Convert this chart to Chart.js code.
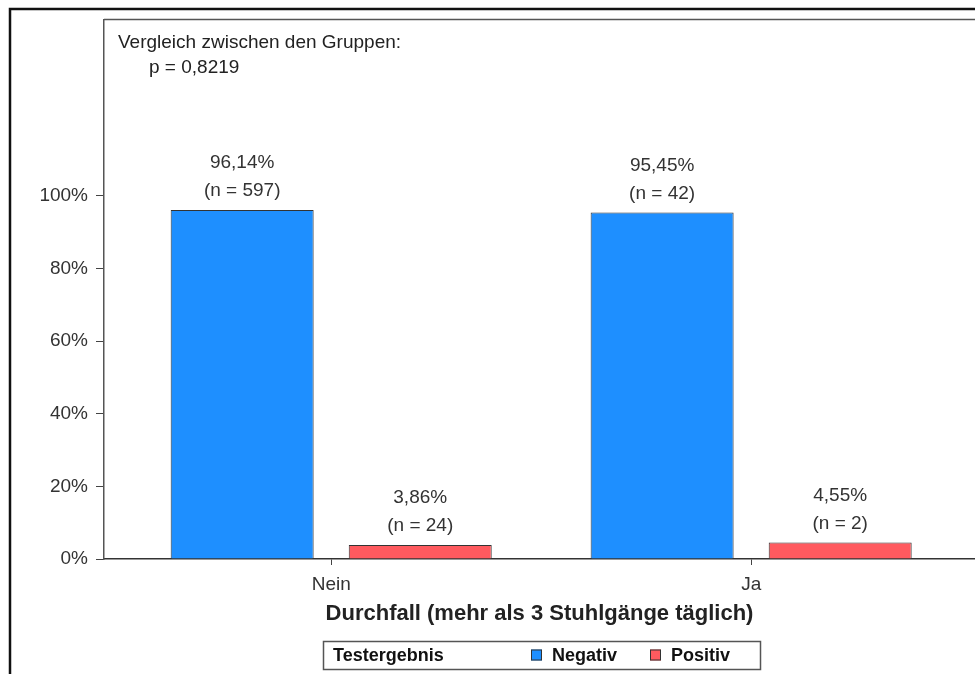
<!DOCTYPE html>
<html>
<head>
<meta charset="utf-8">
<script src="https://cdn.jsdelivr.net/npm/chart.js@4.4.1/dist/chart.umd.min.js"></script>
<style>
  html, body { margin: 0; padding: 0; background: #fff; overflow: hidden; }
  #wrap { width: 975px; height: 674px; position: relative; }
</style>
</head>
<body>
<div id="wrap"><canvas id="c" width="975" height="674"></canvas></div>
<script>
// ---- data ----
const categories = ['Nein', 'Ja'];
const seriesNames = ['Negativ', 'Positiv'];
const negativPct = [96.14, 95.45];
const positivPct = [3.86, 4.55];
const negativN = [597, 42];
const positivN = [24, 2];
const yTickValues = [0, 20, 40, 60, 80, 100];
const xAxisTitle = 'Durchfall (mehr als 3 Stuhlgänge täglich)';
const legendTitle = 'Testergebnis';
const noteLines = ['Vergleich zwischen den Gruppen:', 'p = 0,8219'];

const FONT = "'Liberation Sans', Arial, Helvetica, sans-serif";
const BLUE = '#1E8FFF';
const RED = '#FF5A5F';
const countsBySeries = [negativN, positivN];
const pctBySeries = [negativPct, positivPct];

function fmtPct(v) { return v.toFixed(2).replace('.', ',') + '%'; }

const decorPlugin = {
  id: 'decor',
  beforeDraw(chart) {
    const ctx = chart.ctx;
    const a = chart.chartArea;
    ctx.save();
    // outer frame
    ctx.strokeStyle = '#111';
    ctx.lineWidth = 2.5;
    ctx.strokeRect(10, 9, 1100, 1100);
    // plot frame top line
    ctx.strokeStyle = '#555';
    ctx.lineWidth = 1.5;
    ctx.beginPath();
    ctx.moveTo(a.left, a.top);
    ctx.lineTo(a.right + 5, a.top);
    ctx.stroke();
    ctx.restore();
  },
  afterDraw(chart) {
    const ctx = chart.ctx;
    const a = chart.chartArea;
    ctx.save();
    // note text
    ctx.fillStyle = '#222';
    ctx.font = '19px ' + FONT;
    ctx.textBaseline = 'middle';
    ctx.textAlign = 'left';
    ctx.fillText(noteLines[0], a.left + 14, 43);
    ctx.fillText(noteLines[1], a.left + 45, 68);

    // bar labels
    ctx.textAlign = 'center';
    ctx.font = '19px ' + FONT;
    ctx.fillStyle = '#333';
    chart.data.datasets.forEach((ds, di) => {
      const meta = chart.getDatasetMeta(di);
      meta.data.forEach((bar, i) => {
        const x = bar.x;
        const y = bar.y;
        ctx.fillText(fmtPct(pctBySeries[di][i]), x, y - 47);
        ctx.fillText('(n = ' + countsBySeries[di][i] + ')', x, y - 19);
      });
    });

    // legend box
    const lx = 323.5, ly = 641.5, lw = 437, lh = 28;
    ctx.strokeStyle = '#555';
    ctx.lineWidth = 1.5;
    ctx.strokeRect(lx, ly, lw, lh);
    ctx.textAlign = 'left';
    ctx.fillStyle = '#111';
    ctx.font = 'bold 18px ' + FONT;
    ctx.fillText(legendTitle, 333, ly + lh / 2 + 1);
    const items = [{ x: 531 }, { x: 650 }];
    chart.data.datasets.forEach((ds, di) => {
      const ix = items[di].x;
      ctx.fillStyle = ds.backgroundColor;
      ctx.fillRect(ix, ly + 8, 11, 11);
      ctx.strokeStyle = '#333';
      ctx.lineWidth = 1;
      ctx.strokeRect(ix + 0.5, ly + 8.5, 10, 10);
      ctx.fillStyle = '#111';
      ctx.fillText(ds.label, ix + 21, ly + lh / 2 + 1);
    });
    ctx.restore();
  }
};

const ctx = document.getElementById('c').getContext('2d');
new Chart(ctx, {
  type: 'bar',
  data: {
    datasets: [
      {
        label: seriesNames[0],
        data: categories.map((c, i) => ({ x: i, y: negativPct[i] })),
        backgroundColor: BLUE,
        borderColor: '#333',
        borderWidth: 1
      },
      {
        label: seriesNames[1],
        data: categories.map((c, i) => ({ x: i, y: positivPct[i] })),
        backgroundColor: RED,
        borderColor: '#333',
        borderWidth: 1
      }
    ]
  },
  options: {
    responsive: false,
    animation: false,
    devicePixelRatio: 1,
    categoryPercentage: 0.848,
    barPercentage: 0.803,
    layout: { padding: { left: 0, right: 0, top: 19.5, bottom: 0 } },
    plugins: {
      legend: { display: false },
      tooltip: { enabled: false },
      title: { display: false }
    },
    scales: {
      x: {
        type: 'linear',
        offset: false,
        min: -0.541,
        max: 1.533,
        afterBuildTicks(scale) {
          scale.ticks = categories.map((c, i) => ({ value: i }));
        },
        afterFit(scale) { scale.height = 674 - 559; },
        ticks: {
          callback: (v) => categories[v] !== undefined ? categories[v] : '',
          color: '#333',
          font: { size: 19, family: FONT },
          padding: 8,
          maxRotation: 0,
          autoSkip: false
        },
        grid: {
          display: true,
          offset: false,
          drawOnChartArea: false,
          drawTicks: true,
          tickLength: 6,
          tickColor: '#444',
          tickWidth: 1
        },
        border: { display: true, color: '#333', width: 1.5 },
        title: {
          display: true,
          text: xAxisTitle,
          color: '#222',
          font: { size: 22, weight: 'bold', family: FONT },
          padding: { top: 0, bottom: 47 }
        }
      },
      y: {
        type: 'linear',
        min: 0,
        max: 148.6,
        afterBuildTicks(scale) {
          scale.ticks = yTickValues.map(v => ({ value: v }));
        },
        afterFit(scale) { scale.width = 104; },
        ticks: {
          callback: (v) => v + '%',
          color: '#333',
          font: { size: 19, family: FONT },
          padding: 8
        },
        grid: {
          display: true,
          drawOnChartArea: false,
          drawTicks: true,
          tickLength: 8,
          tickColor: '#444',
          tickWidth: 1
        },
        border: { display: true, color: '#555', width: 1.5 }
      }
    }
  },
  plugins: [decorPlugin]
});
</script>
</body>
</html>
